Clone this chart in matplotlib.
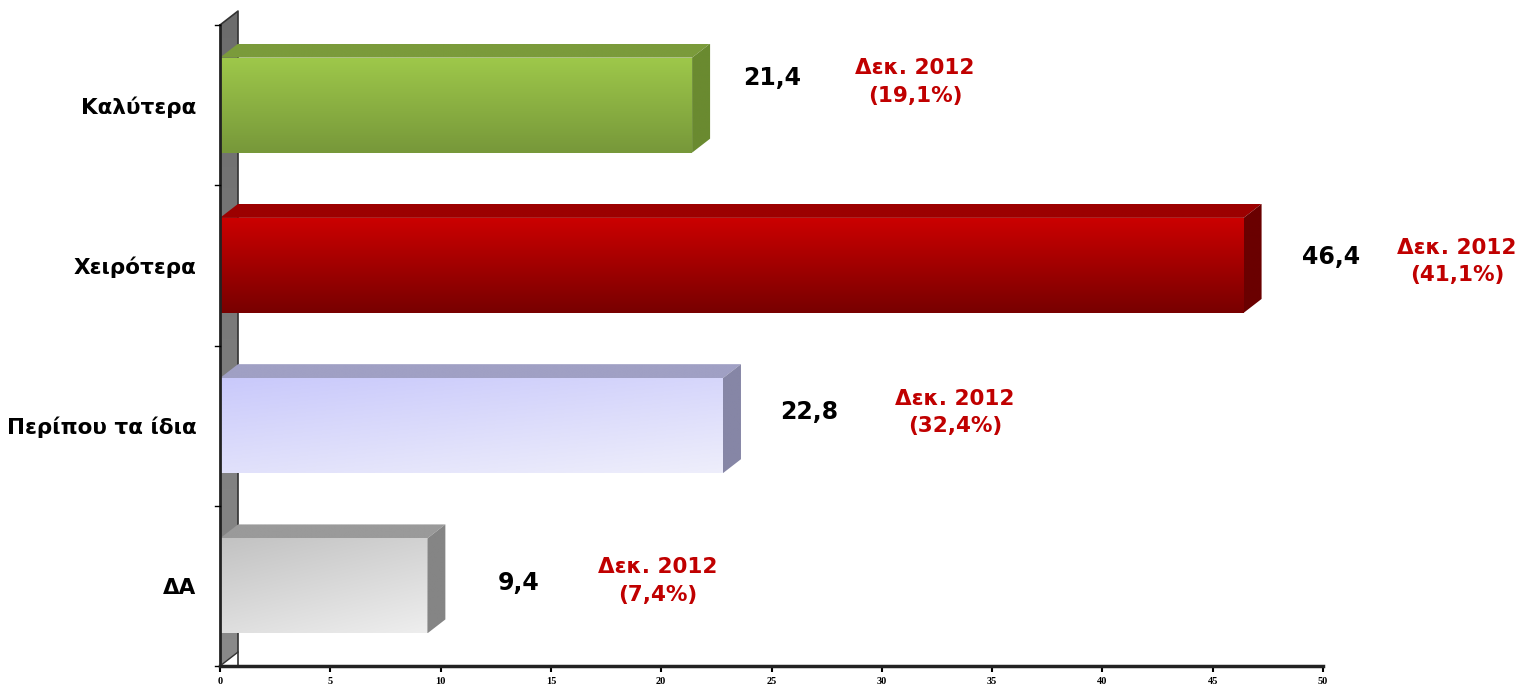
import numpy as np
import matplotlib.pyplot as plt
from matplotlib.patches import Polygon
from matplotlib.colors import to_rgb

categories = ["ΔΑ", "Περίπου τα ίδια", "Χειρότερα", "Καλύτερα"]
values = [9.4, 22.8, 46.4, 21.4]
value_labels = ["9,4", "22,8", "46,4", "21,4"]
previous = ["(7,4%)", "(32,4%)", "(41,1%)", "(19,1%)"]
prev_title = "Δεκ. 2012"
x_ticks = [0, 5, 10, 15, 20, 25, 30, 35, 40, 45, 50]

# label placement (offsets from bar end / bar centre)
val_off = [(3.2, 0.02), (2.6, 0.087), (2.66, 0.05), (2.31, 0.17)]
prev_off = [(10.45, 0.03), (10.52, 0.08), (9.67, 0.025), (10.1, 0.144)]

# face colours: (front start, front end, gradient direction, top, side)
styles = [
    ("#c2c2c2", "#eeeeee", "diag", "#9a9a9a", "#858585"),
    ("#c9c9fb", "#eeeefb", "diag", "#a0a0c4", "#8686a6"),
    ("#cc0000", "#780000", "vert", "#9c0000", "#6a0000"),
    ("#9ec84a", "#77983a", "vert", "#7b9b3b", "#6a8a30"),
]

plt.rcParams['font.family'] = ['DejaVu Sans']

fig = plt.figure(figsize=(15.25, 6.88), dpi=100)
ytop = 4 + 13 / 160.25
ax = fig.add_axes([220 / 1525, 22 / 688, 1103 / 1525, 654 / 688])
ax.set_xlim(0, 50)
ax.set_ylim(0, ytop)

dx, dy = 0.816, 0.087
bh = 0.593


def shade(poly, c1, c2, mode, zorder=2):
    patch = Polygon(poly, closed=True, facecolor="none", edgecolor="none",
                    zorder=zorder)
    ax.add_patch(patch)
    xs = [p[0] for p in poly]
    ys = [p[1] for p in poly]
    n = 64
    gx, gy = np.meshgrid(np.linspace(0, 1, n), np.linspace(1, 0, n))
    if mode == "vert":
        t = 1 - gy
    else:
        t = 0.35 * gx + 0.65 * (1 - gy)
    a, b = np.array(to_rgb(c1)), np.array(to_rgb(c2))
    img = a[None, None, :] * (1 - t[..., None]) + b[None, None, :] * t[..., None]
    im = ax.imshow(img, extent=(min(xs), max(xs), min(ys), max(ys)),
                   aspect="auto", zorder=zorder, interpolation="bilinear")
    im.set_clip_path(patch)


# back wall
top = 4.0
shade([(0, 0), (dx, dy), (dx, top + dy), (0, top)], "#6c6c6c", "#8a8a8a", "vert", 1)
ax.plot([0, 0], [0, top], color="#222222", lw=2, zorder=5, clip_on=False)
ax.plot([0, dx, dx], [top, top + dy, 0], color="#333333", lw=1.2, zorder=1.5, clip_on=False)
ax.plot([0, dx], [0, dy], color="#333333", lw=1, zorder=5, clip_on=False)

for i, v in enumerate(values):
    c1, c2, mode, ctop, cside = styles[i]
    y0 = i + 0.5 - bh / 2
    y1 = i + 0.5 + bh / 2
    # top face
    shade([(0, y1), (dx, y1 + dy), (v + dx, y1 + dy), (v, y1)], ctop, ctop, "vert", 3)
    # side face
    shade([(v, y0), (v + dx, y0 + dy), (v + dx, y1 + dy), (v, y1)], cside, cside, "vert", 3)
    # front face
    shade([(0, y0), (v, y0), (v, y1), (0, y1)], c1, c2, mode, 4)

    ox, oy = val_off[i]
    ax.text(v + ox, i + 0.5 + oy, value_labels[i], ha="left", va="center",
            fontsize=17, fontweight="bold", color="black")
    px, py = prev_off[i]
    ax.text(v + px, i + 0.5 + py, prev_title + "\n" + previous[i], ha="center",
            va="center", fontsize=15.5, fontweight="bold", color="#c00000",
            linespacing=1.45)

ax.set_xticks(x_ticks)
ax.set_xticklabels([str(t) for t in x_ticks], family="Liberation Serif",
                   fontweight="bold", fontsize=7.5)
ax.set_yticks([0.5, 1.5, 2.5, 3.5])
ax.set_yticklabels(categories, fontsize=15.5, fontweight="bold")
ax.tick_params(axis="y", length=0, pad=17)
ax.tick_params(axis="x", length=4, width=1.5, direction="out", pad=4)
for yt in [0, 1, 2, 3, 4]:
    ax.plot([-0.22, 0], [yt, yt], color="black", lw=1, clip_on=False, zorder=5)

for s in ["top", "right", "left"]:
    ax.spines[s].set_visible(False)
ax.spines["bottom"].set_linewidth(2.5)
ax.spines["bottom"].set_color("#222222")
ax.spines["bottom"].set_zorder(6)
ax.set_xlim(0, 50)
ax.set_ylim(0, ytop)

fig.savefig("out.png", dpi=100)
